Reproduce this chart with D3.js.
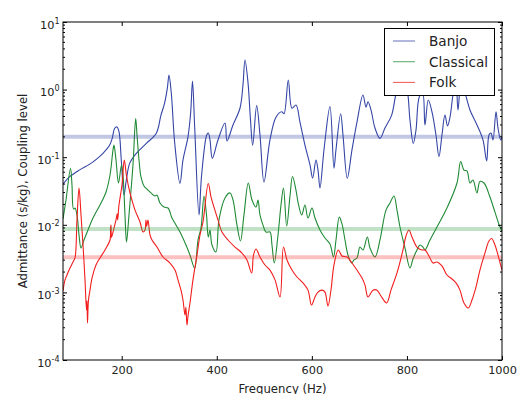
<!DOCTYPE html>
<html><head><meta charset="utf-8">
<script src="https://cdn.jsdelivr.net/npm/d3@7"></script>
<style>html,body{margin:0;padding:0;background:#fff;}svg{display:block;font-family:"DejaVu Sans",sans-serif;}</style>
</head><body><svg id="c" width="519" height="394"></svg>
<script>
// ---- data (frequency Hz, admittance s/kg) ----
const banjo = [[76.5,0.040],[90.6,0.0515],[111.6,0.065],[132.7,0.079],[146.5,0.093],[160.6,0.114],[174.7,0.151],[180,0.19],[185.3,0.268],[190.1,0.28],[194.3,0.238],[199.1,0.091],[204.8,0.0276],[209.7,0.046],[216.8,0.081],[230.7,0.114],[251.7,0.16],[272.8,0.226],[282.6,0.42],[290,0.62],[296,1.05],[299.5,1.64],[304.3,0.89],[311.5,0.162],[322.6,0.041],[328.9,0.091],[339.4,0.20],[345,0.45],[348.9,1.34],[353.5,0.28],[362.6,0.014],[367.8,0.0515],[378.8,0.213],[382.1,0.228],[385.7,0.18],[390.6,0.096],[402.5,0.18],[417.3,0.32],[421.5,0.174],[434.1,0.30],[448.8,0.53],[455.1,1.17],[459.3,2.74],[465.6,1.29],[470.9,0.355],[475.5,0.151],[483.9,0.58],[490.9,0.213],[499.3,0.043],[511.9,0.18],[524.5,0.39],[536.5,0.47],[541.4,0.44],[550.4,1.39],[558.2,0.53],[566.6,0.59],[575,0.33],[585.5,0.151],[596.1,0.077],[601.7,0.049],[608.7,0.091],[612.9,0.065],[617.1,0.035],[625.5,0.128],[638.1,0.56],[646.5,0.069],[650.7,0.128],[660.6,0.44],[665.5,0.213],[674.5,0.0488],[684.4,0.128],[694.9,0.33],[707.5,0.83],[713.9,0.55],[718.1,0.66],[724.4,0.50],[732.8,0.27],[743.3,0.19],[753.8,0.27],[767.9,0.42],[778.4,0.93],[789.6,1.29],[795.9,1.48],[802.2,0.83],[806.4,0.355],[813.4,0.16],[819,0.25],[826,0.78],[833.1,0.89],[837.9,0.30],[844.9,0.70],[852.7,0.47],[861.1,0.213],[867.4,0.102],[873.7,0.213],[880,0.42],[885.3,0.29],[890.6,0.39],[897.5,0.89],[903.2,1.29],[907.4,0.50],[913.7,1.17],[920,0.99],[932.6,0.50],[947.4,0.30],[960,0.18],[967.8,0.088],[972.6,0.213],[976.8,0.228],[981,0.18],[987.4,0.47],[991.6,0.27],[997.2,0.18],[1000,0.2]];
const classical = [[76.5,0.0122],[82.8,0.0233],[92.3,0.0685],[95.4,0.0388],[98.6,0.0171],[101.7,0.0177],[105.9,0.0140],[110.2,0.00707],[114.4,0.00454],[120.7,0.00596],[129.1,0.00838],[139.6,0.0126],[154.3,0.0196],[167.0,0.0306],[175.4,0.0545],[181.7,0.128],[183.8,0.151],[188.0,0.0909],[193.2,0.0415],[199.6,0.0767],[202.7,0.0545],[206.9,0.0140],[210.1,0.00556],[215.3,0.0140],[223.7,0.0767],[229.4,0.374],[232.2,0.213],[236.4,0.0909],[240.6,0.0510],[246.9,0.0375],[255.3,0.0327],[261.6,0.0296],[270.0,0.0267],[274.2,0.0276],[280.5,0.0210],[289.0,0.0183],[297.4,0.0177],[305.8,0.0126],[314.2,0.00993],[322.6,0.00782],[335.2,0.00502],[343.6,0.00357],[353.5,0.00229],[360.5,0.00596],[366.8,0.00897],[373.1,0.0267],[378.4,0.0140],[382.1,0.0066],[385.7,0.00838],[389.9,0.00502],[398.3,0.00396],[404.6,0.0118],[417.3,0.0249],[427.8,0.0296],[434.1,0.0233],[442.5,0.0099],[449.9,0.00576],[457.2,0.0140],[466.3,0.0415],[474.1,0.0233],[482.5,0.0183],[486.7,0.0233],[490.9,0.0140],[497.2,0.0099],[503.5,0.00782],[511.9,0.00782],[516.1,0.00502],[521.0,0.00272],[528.8,0.00707],[535.1,0.0196],[540.3,0.0350],[547.1,0.0096],[554.0,0.0267],[559.3,0.0518],[566.6,0.0327],[570.8,0.0217],[578.6,0.0140],[585.5,0.0196],[591.9,0.0126],[600.3,0.0177],[606.6,0.0126],[617.1,0.00838],[627.6,0.00638],[638.1,0.0052],[645.5,0.00334],[650.8,0.00596],[657.7,0.0130],[663.4,0.0103],[669.7,0.00596],[676.0,0.00357],[683.8,0.00272],[688.6,0.00302],[694.9,0.00323],[701.2,0.00469],[707.6,0.00424],[716.6,0.0066],[722.3,0.00454],[732.8,0.00334],[743.3,0.00596],[755.9,0.0165],[764.3,0.0210],[772.8,0.0267],[779.1,0.0165],[785.4,0.00928],[795.9,0.00454],[806.4,0.00229],[812.7,0.00312],[821.1,0.00424],[827.5,0.00502],[833.8,0.00469],[838.0,0.00424],[848.5,0.00596],[863.2,0.00928],[884.2,0.0177],[905.3,0.0415],[913.1,0.0864],[920.0,0.0646],[926.3,0.0625],[932.6,0.0415],[938.9,0.0459],[947.3,0.0296],[953.6,0.0437],[962.1,0.0415],[974.7,0.0258],[985.2,0.0154],[995.7,0.00928],[1000,0.0081]];
const folk = [[76.5,0.00105],[80.7,0.00153],[84.9,0.00181],[91.2,0.00229],[97.5,0.00281],[101.7,0.00323],[105.9,0.0118],[110.2,0.0350],[114.4,0.0140],[118.6,0.00502],[122.8,0.00153],[125.9,0.000549],[127.0,0.00075],[128.0,0.000353],[130.1,0.000772],[133.3,0.00108],[137.5,0.00163],[145.9,0.00254],[154.3,0.00323],[164.8,0.00424],[175.4,0.00596],[176.5,0.0089],[177.5,0.00993],[178.5,0.0065],[181.7,0.00782],[188.0,0.0118],[190.5,0.0145],[191.5,0.0118],[194.3,0.0196],[200.6,0.0388],[205.4,0.0909],[210.1,0.0527],[217.4,0.0296],[228.0,0.0165],[238.5,0.0110],[244.8,0.00782],[249.0,0.00838],[251,0.0118],[252.5,0.0095],[255.3,0.0118],[259.5,0.00707],[263.7,0.00596],[274.2,0.00469],[286.9,0.00334],[301.6,0.00272],[312.1,0.00214],[318.4,0.00153],[324.7,0.00108],[328.9,0.000772],[333.1,0.000463],[335,0.0006],[337.3,0.000329],[339.5,0.00045],[343.6,0.000697],[349.9,0.00153],[358.4,0.00357],[364.7,0.00707],[371.0,0.0110],[382.1,0.0408],[387.8,0.0258],[394.1,0.0183],[402.5,0.0118],[410.9,0.00782],[423.6,0.00596],[438.3,0.00469],[453.0,0.00382],[463.5,0.00302],[473.4,0.00194],[477.2,0.00357],[482.5,0.00438],[490.9,0.00334],[501.4,0.00254],[511.9,0.00214],[522.5,0.00153],[533.0,0.000855],[540.3,0.00469],[547.7,0.00302],[558.2,0.00214],[568.7,0.00169],[581.3,0.00138],[591.9,0.00108],[599.2,0.000651],[606.6,0.000855],[612.9,0.00101],[621.3,0.00108],[627.6,0.00101],[633.9,0.000629],[640.2,0.00108],[646.5,0.00254],[655.6,0.00424],[663.4,0.00346],[673.9,0.00334],[684.4,0.00272],[694.9,0.00214],[705.5,0.00163],[711.8,0.00128],[718.1,0.000855],[728.6,0.00108],[737.0,0.00108],[745.4,0.000884],[757.4,0.000697],[766.4,0.00108],[779.1,0.00194],[791.7,0.00424],[798.0,0.00683],[804.3,0.00838],[810.6,0.0066],[821.1,0.00469],[831.7,0.00424],[838.0,0.00424],[846.4,0.00346],[854.8,0.00272],[863.2,0.00281],[873.7,0.00246],[884.2,0.00181],[894.8,0.00158],[903.2,0.00138],[911.6,0.00108],[920.0,0.000697],[929.1,0.000588],[936.8,0.000772],[945.2,0.0012],[953.6,0.00214],[964.1,0.00382],[972.6,0.00576],[978.3,0.00627],[985.2,0.00502],[991.6,0.00357],[997.2,0.00254],[1000,0.00214]];
const seriesNames = ["Banjo", "Classical", "Folk"];
const couplingLevels = [0.20, 0.0087, 0.0033];
const xTicks = [200, 400, 600, 800, 1000];
const yTicks = [1e-4, 1e-3, 1e-2, 1e-1, 1e0, 1e1];
const yTickExps = ["-4", "-3", "-2", "-1", "0", "1"];
const xLabel = "Frequency (Hz)";
const yLabel = "Admittance (s/kg), Coupling level";

// ---- styles / layout ----
const colors = ["#3445a6", "#1f8a35", "#f21d1d"];
const bandColors = ["#3445a6", "#2e9a40", "#f23030"];
const L = 63, T = 22, R = 502, B = 360;
const svg = d3.select("#c");
const x = d3.scaleLinear().domain([76.5, 1000]).range([L, R]);
const y = d3.scaleLog().domain([1e-4, 10]).range([B, T]);

svg.append("defs").append("clipPath").attr("id", "clip")
  .append("rect").attr("x", L).attr("y", T).attr("width", R - L).attr("height", B - T);

const plot = svg.append("g").attr("clip-path", "url(#clip)");
const line = d3.line().x(d => x(d[0])).y(d => y(d[1])).curve(d3.curveCatmullRom.alpha(0.5));
[banjo, classical, folk].forEach((s, i) => {
  plot.append("path").datum(s).attr("d", line)
    .attr("fill", "none").attr("stroke", colors[i]).attr("stroke-width", 1.1)
    .attr("stroke-linejoin", "round");
});
couplingLevels.forEach((c, i) => {
  plot.append("line").attr("x1", L).attr("x2", R).attr("y1", y(c)).attr("y2", y(c))
    .attr("stroke", bandColors[i]).attr("stroke-opacity", 0.3).attr("stroke-width", 4);
});

// axes
const fs = "11.3px";
const xb = svg.append("g").attr("transform", `translate(0,${B})`)
  .call(d3.axisBottom(x).tickValues(xTicks).tickSizeInner(-4).tickSizeOuter(0).tickPadding(6).tickFormat(d3.format("d")));
const xt = svg.append("g").attr("transform", `translate(0,${T})`)
  .call(d3.axisTop(x).tickValues(xTicks).tickSizeInner(-4).tickSizeOuter(0).tickFormat(""));
const yl = svg.append("g").attr("transform", `translate(${L},0)`)
  .call(d3.axisLeft(y).tickValues(yTicks).tickSizeInner(-4).tickSizeOuter(0).tickPadding(3.5).tickFormat(""));
const yr = svg.append("g").attr("transform", `translate(${R},0)`)
  .call(d3.axisRight(y).tickValues(yTicks).tickSizeInner(-4).tickSizeOuter(0).tickFormat(""));
[xb, xt, yl, yr].forEach(g => {
  g.select(".domain").remove();
  g.selectAll(".tick line").attr("stroke", "#000").attr("stroke-width", 1);
  g.selectAll("text").attr("font-family", "DejaVu Sans").attr("font-size", fs).attr("fill", "#222");
});
yl.selectAll(".tick text").each(function (d, i) {
  const t = d3.select(this);
  t.text(null).attr("dy", "0.54em");
  t.append("tspan").text("10");
  t.append("tspan").attr("dy", -5).attr("font-size", "8px").text(yTickExps[i]);
});
// minor log ticks
const minors = [];
for (let k = -4; k < 1; k++) for (let j = 2; j <= 9; j++) minors.push(j * Math.pow(10, k));
const mg = svg.append("g");
minors.forEach(v => {
  mg.append("line").attr("x1", L).attr("x2", L + 2).attr("y1", y(v)).attr("y2", y(v)).attr("stroke", "#000");
  mg.append("line").attr("x1", R - 2).attr("x2", R).attr("y1", y(v)).attr("y2", y(v)).attr("stroke", "#000");
});
// frame
svg.append("rect").attr("x", L).attr("y", T).attr("width", R - L).attr("height", B - T)
  .attr("fill", "none").attr("stroke", "#000").attr("stroke-width", 1);

// labels
svg.append("text").attr("x", (L + R) / 2).attr("y", 392.5).attr("text-anchor", "middle")
  .attr("font-size", "11.7px").attr("fill", "#222").text(xLabel);
svg.append("text").attr("transform", `translate(26.5,${(T + B) / 2}) rotate(-90)`).attr("text-anchor", "middle")
  .attr("font-size", "11.7px").attr("fill", "#222").text(yLabel);

// legend
const lg = svg.append("g");
lg.append("rect").attr("x", 384.5).attr("y", 28.5).attr("width", 110).attr("height", 67)
  .attr("fill", "#fff").attr("stroke", "#000").attr("stroke-width", 1);
seriesNames.forEach((n, i) => {
  const ry = 41 + i * 20.7;
  lg.append("line").attr("x1", 393).attr("x2", 415).attr("y1", ry).attr("y2", ry)
    .attr("stroke", colors[i]).attr("stroke-opacity", 0.7).attr("stroke-width", 1.1);
  lg.append("text").attr("x", 429).attr("y", ry + 5).attr("font-size", "13.6px").attr("fill", "#222").text(n);
});
</script></body></html>
